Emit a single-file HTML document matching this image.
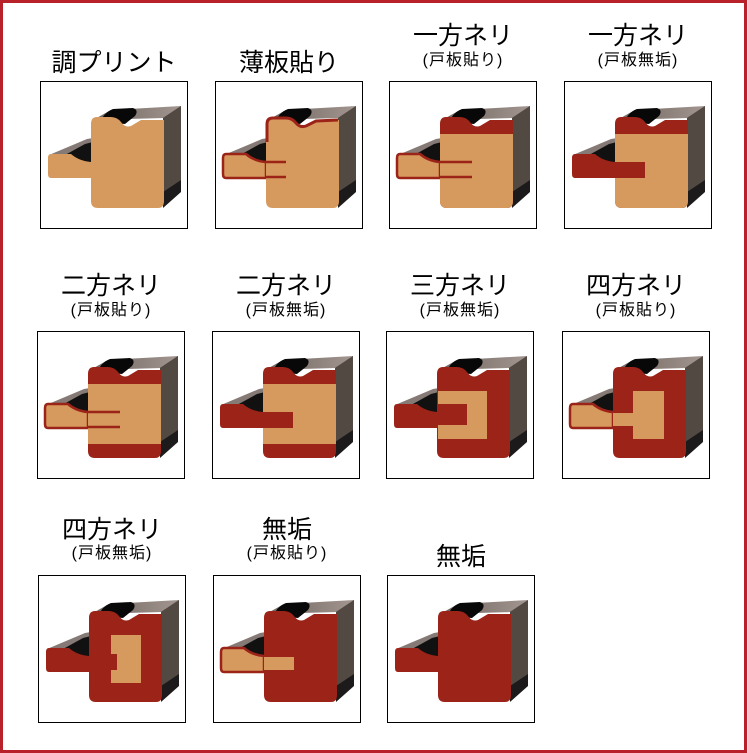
<!DOCTYPE html>
<html><head><meta charset="utf-8"><style>
body{margin:0;width:747px;height:753px;background:#fff;position:relative;overflow:hidden;font-family:"Liberation Sans","Noto Sans CJK JP",sans-serif}
.frame{position:absolute;left:0;top:0;width:741px;height:747px;border:3px solid #b8202a}
.b{position:absolute;width:146px;height:146px;border:1px solid #000;background:#fff}
.b svg{position:absolute;left:0;top:0}
.t{position:absolute;width:200px;text-align:center;font-size:25px;color:#000;line-height:1}
.s{position:absolute;width:200px;text-align:center;font-size:16px;letter-spacing:1px;color:#000;line-height:1}
</style></head><body>
<div class="frame"></div>
<svg width="0" height="0" style="position:absolute">
<defs>
<linearGradient id="tg" x1="0" y1="0" x2="1" y2="0"><stop offset="0" stop-color="#6f6460"/><stop offset="1" stop-color="#a39690"/></linearGradient>
<g id="back">
<polygon points="52,38 70,28 140,24 124,36" fill="url(#tg)"/>
<path d="M60,40 Q62,31 72,27 L92,26 Q98,28 94,34 L84,42 Z" fill="#080808"/>
<polygon points="122,36 140,24 140,110 122,126" fill="#1c1a1a"/>
<polygon points="122,36 140,24 140,98 122,110" fill="#77695f" opacity="0.6"/>
<polygon points="8,73 46,57 52,56 52,80 40,80 28,73" fill="#857a75"/>
<path d="M24,73 L44,62 L52,60 L52,82 L42,80 Z" fill="#111"/>
</g>
<path id="face" d="M56,35 Q50,35 50,42 L50,119 Q50,126 57,126 L117,126 Q123,126 123,119 L123,38 L100,38 L90,44 Q84,46 80,40 Q76,35 70,35 Z"/>
<path id="ten" d="M10,72 L30,72 Q38,79 50,80 L50,96 L10,96 Q7,96 7,92 L7,76 Q7,72 10,72 Z"/>
</defs></svg>

<!-- Row 1 -->
<div class="t" style="left:14px;top:51px">調プリント</div>
<div class="b" style="left:40px;top:81px"><svg width="146" height="146"><use href="#back"/><use href="#ten" fill="#d69a5e"/><use href="#face" fill="#d69a5e"/></svg></div>

<div class="t" style="left:189px;top:51px">薄板貼り</div>
<div class="b" style="left:215px;top:81px"><svg width="146" height="146"><use href="#back"/><use href="#ten" fill="#d69a5e" stroke="#9b2318" stroke-width="2.5"/><use href="#face" fill="#d69a5e"/><path d="M51,60 L51,42 Q51,36 57,36 L70,36 Q76,36 80,41 Q84,46 90,44 L100,39 L122,38" fill="none" stroke="#9b2318" stroke-width="3"/><path d="M50,80 L70,80 M50,95 L70,95" stroke="#9b2318" stroke-width="2.5"/></svg></div>

<div class="t" style="left:363px;top:24px">一方ネリ</div>
<div class="s" style="left:363px;top:53px">(戸板貼り)</div>
<div class="b" style="left:389px;top:81px"><svg width="146" height="146"><use href="#back"/><use href="#ten" fill="#d69a5e" stroke="#9b2318" stroke-width="2.5"/><use href="#face" fill="#9b2318"/><path d="M50,52 L123,52 L123,119 Q123,126 117,126 L57,126 Q50,126 50,119Z" fill="#d69a5e"/><path d="M50,80 L82,80 M50,95 L82,95" stroke="#9b2318" stroke-width="2.5"/></svg></div>

<div class="t" style="left:538px;top:24px">一方ネリ</div>
<div class="s" style="left:538px;top:53px">(戸板無垢)</div>
<div class="b" style="left:564px;top:81px"><svg width="146" height="146"><use href="#back"/><use href="#ten" fill="#9b2318"/><use href="#face" fill="#9b2318"/><path d="M50,52 L123,52 L123,119 Q123,126 117,126 L57,126 Q50,126 50,119Z" fill="#d69a5e"/><rect x="50" y="80" width="30" height="16" fill="#9b2318"/></svg></div>

<!-- Row 2 -->
<div class="t" style="left:11px;top:274px">二方ネリ</div>
<div class="s" style="left:11px;top:303px">(戸板貼り)</div>
<div class="b" style="left:37px;top:331px"><svg width="146" height="146"><use href="#back"/><use href="#ten" fill="#d69a5e" stroke="#9b2318" stroke-width="2.5"/><use href="#face" fill="#9b2318"/><rect x="50" y="52" width="73" height="60" fill="#d69a5e"/><path d="M50,80 L82,80 M50,95 L82,95" stroke="#9b2318" stroke-width="2.5"/></svg></div>

<div class="t" style="left:186px;top:274px">二方ネリ</div>
<div class="s" style="left:186px;top:303px">(戸板無垢)</div>
<div class="b" style="left:212px;top:331px"><svg width="146" height="146"><use href="#back"/><use href="#ten" fill="#9b2318"/><use href="#face" fill="#9b2318"/><rect x="50" y="52" width="73" height="60" fill="#d69a5e"/><rect x="50" y="80" width="30" height="16" fill="#9b2318"/></svg></div>

<div class="t" style="left:360px;top:274px">三方ネリ</div>
<div class="s" style="left:360px;top:303px">(戸板無垢)</div>
<div class="b" style="left:386px;top:331px"><svg width="146" height="146"><use href="#back"/><use href="#ten" fill="#9b2318"/><use href="#face" fill="#9b2318"/><rect x="51" y="59" width="49" height="48" fill="#d69a5e"/><rect x="50" y="72" width="30" height="21" fill="#9b2318"/></svg></div>

<div class="t" style="left:536px;top:274px">四方ネリ</div>
<div class="s" style="left:536px;top:303px">(戸板貼り)</div>
<div class="b" style="left:562px;top:331px"><svg width="146" height="146"><use href="#back"/><use href="#ten" fill="#d69a5e" stroke="#9b2318" stroke-width="2.5"/><use href="#face" fill="#9b2318"/><rect x="70" y="59" width="31" height="48" fill="#d69a5e"/><rect x="50" y="81" width="30" height="13" fill="#d69a5e"/></svg></div>

<!-- Row 3 -->
<div class="t" style="left:12px;top:518px">四方ネリ</div>
<div class="s" style="left:12px;top:546px">(戸板無垢)</div>
<div class="b" style="left:38px;top:575px"><svg width="146" height="146"><use href="#back"/><use href="#ten" fill="#9b2318"/><use href="#face" fill="#9b2318"/><rect x="72" y="59" width="30" height="48" fill="#d69a5e"/><rect x="50" y="78" width="28" height="16" fill="#9b2318"/></svg></div>

<div class="t" style="left:187px;top:518px">無垢</div>
<div class="s" style="left:187px;top:546px">(戸板貼り)</div>
<div class="b" style="left:213px;top:575px"><svg width="146" height="146"><use href="#back"/><use href="#ten" fill="#d69a5e" stroke="#9b2318" stroke-width="2.5"/><use href="#face" fill="#9b2318"/><path d="M50,81 L80,81 L80,94 L50,94" fill="#d69a5e"/></svg></div>

<div class="t" style="left:361px;top:545px">無垢</div>
<div class="b" style="left:387px;top:575px"><svg width="146" height="146"><use href="#back"/><use href="#ten" fill="#9b2318"/><use href="#face" fill="#9b2318"/></svg></div>
</body></html>
